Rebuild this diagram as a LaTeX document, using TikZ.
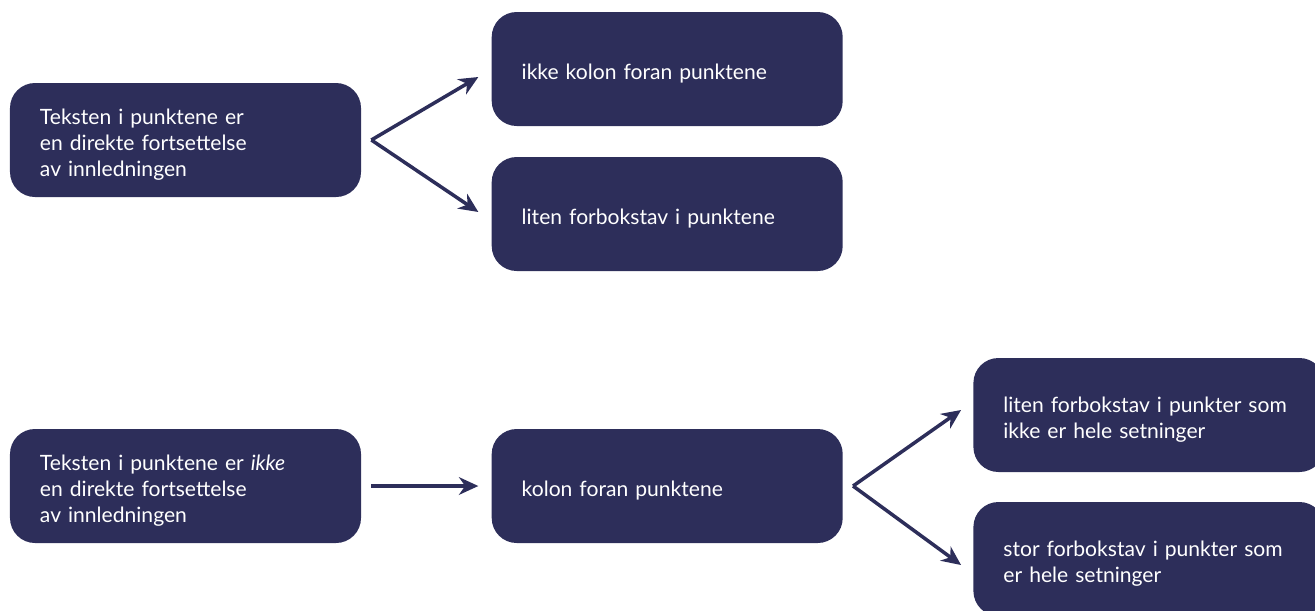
\documentclass[tikz,border=0pt]{standalone}
\usepackage{fontspec}
\setmainfont{Lato}
\usetikzlibrary{arrows.meta}
\usetikzlibrary{positioning}

\definecolor{navy}{HTML}{2D2E5A}

\begin{document}
\begin{tikzpicture} [
        box/.style={fill=navy, text=white, rectangle, rounded corners=0.5cm,
            text width=5.82cm, inner xsep=0.6cm, minimum height=2.28cm,
            align=left, font=\fontsize{12}{14.8}\selectfont,
            execute at begin node={\rule{0pt}{14.5pt}}},
        arr/.style={draw=navy, line width=2pt, -{Stealth[length=11pt, width=10pt, inset=3.5pt]}},
        node distance=2.6cm ]
    \clip (0,0) rectangle (26.3,-12.2);
    \node[box] (a1) at (3.71,-2.80) {Teksten i punktene er\\en direkte fortsettelse\\av innledningen};
    \node[box, right=of a1, yshift=1.42cm] (b1) {ikke kolon foran punktene};
    \node[box, right=of a1, yshift=-1.48cm] (b2) {liten forbokstav i punktene};
    \node[box] (a2) at (3.71,-9.72) {Teksten i punktene er \textit{ikke}\\en direkte fortsettelse\\av innledningen};
    \node[box, right=of a2] (b3) {kolon foran punktene};
    \node[box, right=of b3, yshift=1.42cm] (c1) {liten forbokstav i punkter som\\ikke er hele setninger};
    \node[box, right=of b3, yshift=-1.46cm] (c2) {stor forbokstav i punkter som\\er hele setninger};
    % free ends of the arrows
    \coordinate (s1) at ([xshift=0.2cm]a1.east);
    \coordinate (s2) at ([xshift=0.2cm]a2.east);
    \coordinate (s3) at ([xshift=0.2cm]b3.east);
    \draw[arr] (s1) -- ([xshift=-0.26cm, yshift=-0.16cm]b1.west);
    \draw[arr] (s1) -- ([xshift=-0.26cm, yshift=0.04cm]b2.west);
    \draw[arr] (s2) -- ([xshift=-0.26cm]b3.west);
    \draw[arr] (s3) -- ([xshift=-0.24cm, yshift=0.1cm]c1.west);
    \draw[arr] (s3) -- ([xshift=-0.24cm, yshift=-0.12cm]c2.west);
\end{tikzpicture}
\end{document}
